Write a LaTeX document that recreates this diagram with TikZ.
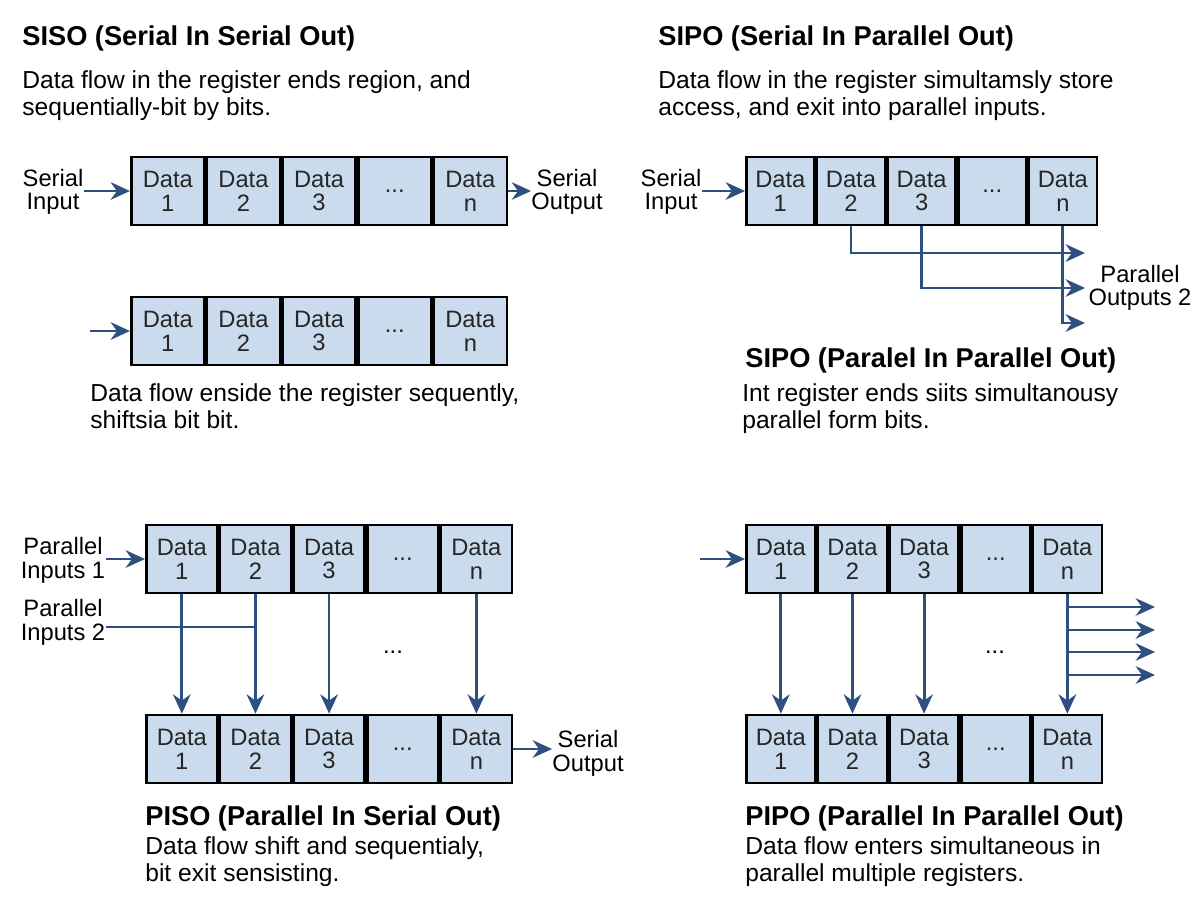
\documentclass[tikz,border=0pt]{standalone}
\usepackage{fontspec}
\setmainfont{Liberation Sans}
\usetikzlibrary{arrows.meta,positioning}
\definecolor{cellblue}{HTML}{C9DBEC}
\definecolor{flowblue}{HTML}{2D5080}
\tikzset{
  cell/.style={draw=black,line width=1.5pt,fill=cellblue,minimum height=68*0.02cm,inner sep=0pt,align=center,font=\fontsize{13.5}{13.5}\selectfont,text=black!85},
  flow/.style={flowblue,line width=1.6pt,-{Stealth[length=11pt,width=10pt]}},
  lbl/.style={align=center,font=\fontsize{13.5}{13.5}\selectfont,inner sep=0pt},
  ttl/.style={anchor=west,font=\bfseries\fontsize{15.5}{17}\selectfont,inner sep=0pt},
  txt/.style={anchor=north west,align=left,font=\fontsize{14}{15.5}\selectfont,inner sep=0pt}
}
% register of five cells: name, left x, centre y, cell width
\newcommand{\regrow}[4]{%
  \node[cell,minimum width=#4*0.02cm,anchor=west] (#11) at (#2,#3) {Data\\1};
  \node[cell,minimum width=#4*0.02cm,right=0pt of #11] (#12) {Data\\2};
  \node[cell,minimum width=#4*0.02cm,right=0pt of #12] (#13) {Data\\3};
  \node[cell,minimum width=#4*0.02cm,right=0pt of #13] (#14) {...};
  \node[cell,minimum width=#4*0.02cm,right=0pt of #14] (#15) {Data\\n};
}
\begin{document}
\begin{tikzpicture}[x=0.02cm,y=-0.02cm]
\useasboundingbox (0,0) rectangle (1200,896);

% SISO
\node[ttl] (siso) at (22,38) {SISO (Serial In Serial Out)};
\node[txt] (sisotxt) at (22,70) {Data flow in the register ends region, and\\sequentially-bit by bits.};
\regrow{sa}{130}{191}{73}
\node[lbl] (sain) at (53,192) {Serial\\Input};
\node[lbl] (saout) at (567,192) {Serial\\Output};
\draw[flow] (sain.east |- sa1.west) -- (sa1.west);
\draw[flow] (sa5.east) -- (sa5.east -| saout.west);
\regrow{sb}{130}{331}{73}
\coordinate (sbin) at (90,331);
\draw[flow] (sbin) -- (sb1.west);
\node[txt] (sbtxt) at (90,383) {Data flow enside the register sequently,\\shiftsia bit bit.};

% SIPO
\node[ttl] (sipo) at (658,38) {SIPO (Serial In Parallel Out)};
\node[txt] (sipotxt) at (658,70) {Data flow in the register simultamsly store\\access, and exit into parallel inputs.};
\regrow{sp}{745}{191}{68}
\node[lbl] (spin) at (671,192) {Serial\\Input};
\draw[flow] (spin.east |- sp1.west) -- (sp1.west);
\coordinate (spo1) at (1085,253);
\coordinate (spo2) at (1085,288);
\coordinate (spo3) at (1085,323);
\draw[flow] (sp2.south) |- (spo1);
\draw[flow] (sp3.south) |- (spo2);
\draw[flow] (sp5.south) |- (spo3);
\node[lbl] (spout) at (1140,288) {Parallel\\Outputs 2};
\node[ttl] (sipo2) at (745,360) {SIPO (Paralel In Parallel Out)};
\node[txt] (sipo2txt) at (742,383) {Int register ends siits simultanousy\\parallel form bits.};

% PISO
\regrow{pa}{145}{559}{71}
\regrow{pb}{145}{749}{71}
\node[lbl] (pain1) at (63,560) {Parallel\\Inputs 1};
\draw[flow] (pain1.east |- pa1.west) -- (pa1.west);
\node[lbl] (pain2) at (63,622) {Parallel\\Inputs 2};
\coordinate (pajoin) at (pa2.south |- 0,627);
\draw[flowblue,line width=1.6pt] (pain2.east |- pajoin) -- (pajoin);
\draw[flow] (pa1.south) -- (pb1.north);
\draw[flow] (pa2.south) -- (pb2.north);
\draw[flow] (pa3.south) -- (pb3.north);
\draw[flow] (pa5.south) -- (pb5.north);
\node[lbl] (padots) at (393,652) {...};
\node[lbl] (pbout) at (588,753) {Serial\\Output};
\draw[flow] (pb5.east) -- (pb5.east -| pbout.west);
\node[ttl] (piso) at (145,818) {PISO (Parallel In Serial Out)};
\node[txt] (pisotxt) at (145,836) {Data flow shift and sequentialy,\\bit exit sensisting.};

% PIPO
\regrow{qa}{745}{559}{69}
\regrow{qb}{745}{749}{69}
\coordinate (qain) at (700,559);
\draw[flow] (qain) -- (qa1.west);
\draw[flow] (qa1.south) -- (qb1.north);
\draw[flow] (qa2.south) -- (qb2.north);
\draw[flow] (qa3.south) -- (qb3.north);
\draw[flow] (qa5.south) -- (qb5.north);
\node[lbl] (qadots) at (995,652) {...};
\foreach \yy [count=\i] in {607,630,652,675} {
  \coordinate (qo\i) at (1155,\yy);
  \draw[flow] (qa5.south |- qo\i) -- (qo\i);
}
\node[ttl] (pipo) at (745,818) {PIPO (Parallel In Parallel Out)};
\node[txt] (pipotxt) at (745,836) {Data flow enters simultaneous in\\parallel multiple registers.};
\end{tikzpicture}
\end{document}
